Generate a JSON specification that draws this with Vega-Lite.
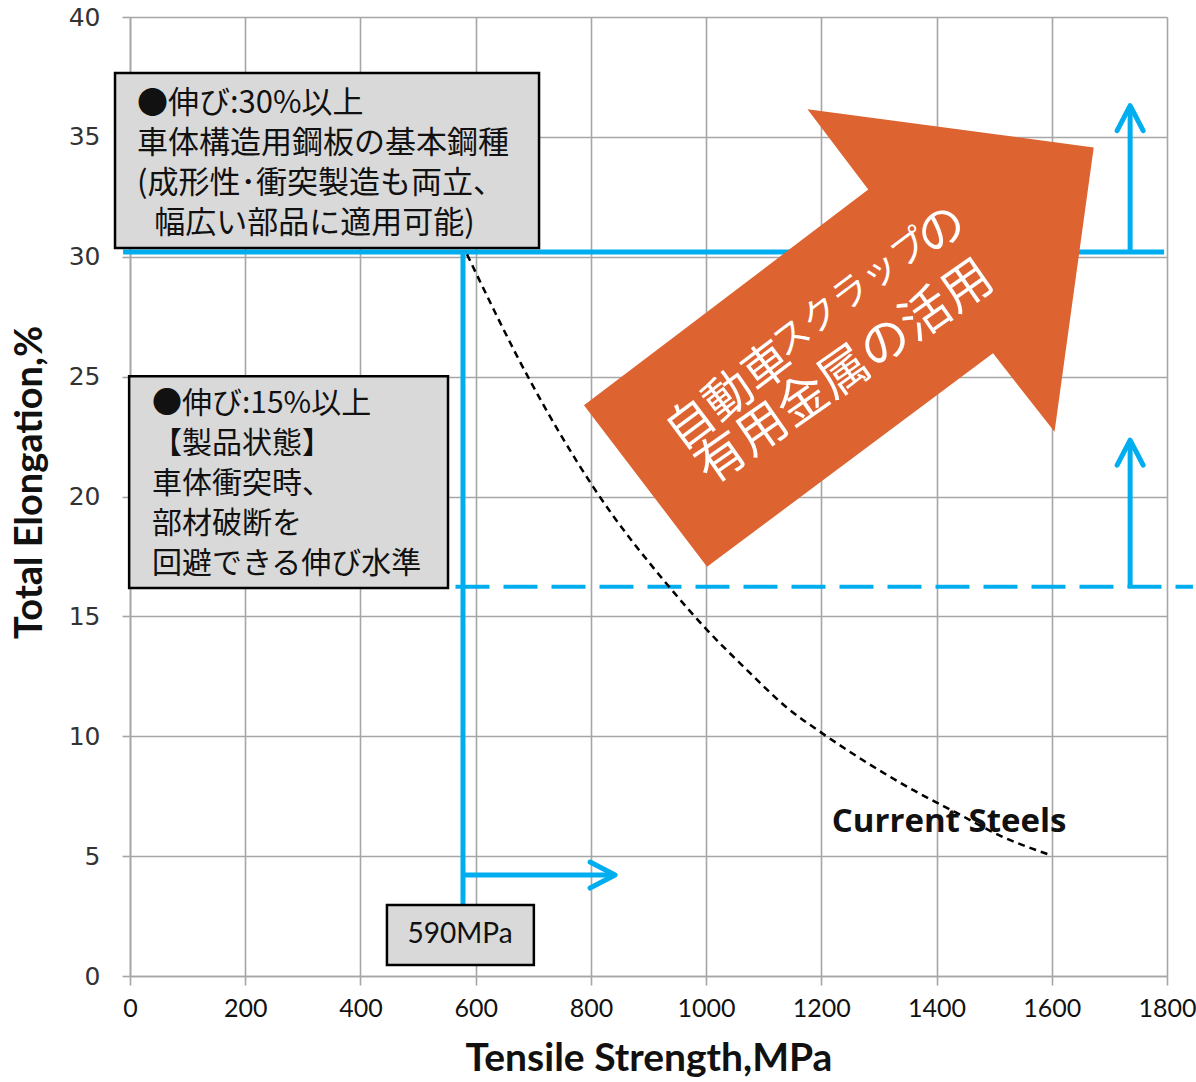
{
  "$schema": "https://vega.github.io/schema/vega-lite/v6.json",
  "width": 1037,
  "height": 959,
  "autosize": {"type": "none"},
  "padding": {"left": 130, "top": 17, "right": 29, "bottom": 106},
  "background": "white",
  "config": {"view": {"stroke": null}},
  "datasets": {
    "solid": [
      {"x": -12, "y": 30.2, "x2": 1795, "y2": 30.2},
      {"x": 578, "y": 30.2, "x2": 578, "y2": 2.96},
      {"x": 578, "y": 4.21, "x2": 838, "y2": 4.21},
      {"x": 1736, "y": 30.2, "x2": 1736, "y2": 36.2},
      {"x": 1736, "y": 16.2, "x2": 1736, "y2": 22.3}
    ],
    "dashed": [{"x": 565, "y": 16.24, "x2": 1845, "y2": 16.24}],
    "heads": [
      {"x": 1736, "y": 36.3, "a": 0},
      {"x": 1736, "y": 22.35, "a": 0},
      {"x": 842, "y": 4.21, "a": 90}
    ],
    "curve": [
      {"x": 585, "y": 30.1},
      {"x": 694, "y": 24.85},
      {"x": 804, "y": 20.4},
      {"x": 937, "y": 16.2},
      {"x": 1001, "y": 14.45},
      {"x": 1071, "y": 12.76},
      {"x": 1140, "y": 11.2},
      {"x": 1203, "y": 10.1},
      {"x": 1279, "y": 8.9},
      {"x": 1359, "y": 7.76},
      {"x": 1435, "y": 6.8},
      {"x": 1515, "y": 5.8},
      {"x": 1597, "y": 5.05}
    ],
    "bigarrow": [
      {"i": 1, "x": 1672.8, "y": 34.56},
      {"i": 2, "x": 1604.8, "y": 22.7},
      {"i": 3, "x": 1498, "y": 25.97},
      {"i": 4, "x": 1001.6, "y": 17.07},
      {"i": 5, "x": 788, "y": 23.81},
      {"i": 6, "x": 1281.4, "y": 32.8},
      {"i": 7, "x": 1176, "y": 36.15}
    ],
    "arrowtext": [
      {"x": 1041.5, "y": 24.15, "t": "自動車", "s": 48, "a": -37},
      {"x": 1252, "y": 28.45, "t": "スクラップ", "s": 37, "a": -37},
      {"x": 1410, "y": 31.05, "t": "の", "s": 48, "a": -37},
      {"x": 1241, "y": 25.15, "t": "有用金属の活用", "s": 50, "a": -35}
    ],
    "boxes": [
      {"x": -26, "x2": 710, "y": 30.36, "y2": 37.66},
      {"x": -1.5, "x2": 552, "y": 16.18, "y2": 25.02},
      {"x": 446, "x2": 701, "y": 0.46, "y2": 2.96}
    ],
    "box1text": [
      {"x": 12, "y": 36.36, "t": ["●伸び:30%以上", "車体構造用鋼板の基本鋼種", "(成形性･衝突製造も両立、"]},
      {"x": 42, "y": 31.36, "t": "幅広い部品に適用可能)"}
    ],
    "box2text": [
      {"x": 38, "y": 23.85, "t": ["●伸び:15%以上", "【製品状態】", "車体衝突時、", "部材破断を", "回避できる伸び水準"]}
    ],
    "mpa": [{"x": 573, "y": 1.71, "t": "590MPa"}],
    "steels": [{"x": 1218, "y": 6.42, "t": "Current  Steels"}]
  },
  "layer": [
    {
      "data": {"name": "solid"},
      "mark": {"type": "rule", "color": "#00aeef", "strokeWidth": 5},
      "encoding": {
        "x": {
          "field": "x", "type": "quantitative",
          "scale": {"domain": [0, 1800], "nice": false, "zero": false},
          "axis": {
            "title": "Tensile Strength,MPa",
            "values": [0, 200, 400, 600, 800, 1000, 1200, 1400, 1600, 1800],
            "format": "d",
            "grid": true, "gridColor": "#a6a6a6", "gridWidth": 1.6,
            "domainColor": "#a6a6a6", "domainWidth": 1.6,
            "tickColor": "#a6a6a6", "tickWidth": 1.6, "tickSize": 9,
            "labelFont": "Lato",
            "labelFontSize": 25, "labelColor": "#111", "labelPadding": 11,
            "labelFlush": false, "labelOverlap": false,
            "titleFont": "Lato", "titleFontSize": 39, "titleFontWeight": "bold",
            "titleColor": "#111", "titlePadding": 18
          }
        },
        "y": {
          "field": "y", "type": "quantitative",
          "scale": {"domain": [0, 40], "nice": false, "zero": false},
          "axis": {
            "title": "Total Elongation,%",
            "values": [0, 5, 10, 15, 20, 25, 30, 35, 40],
            "grid": true, "gridColor": "#a6a6a6", "gridWidth": 1.6,
            "domainColor": "#a6a6a6", "domainWidth": 1.6,
            "tickColor": "#a6a6a6", "tickWidth": 1.6, "tickSize": 8,
            "labelFont": "DejaVu Sans", "labelFontSize": 25, "labelColor": "#333",
            "labelPadding": 22, "labelFlush": false, "labelOverlap": false,
            "titleFont": "Lato", "titleFontSize": 38, "titleFontWeight": "bold",
            "titleColor": "#111", "titleX": -100, "titleY": 465,
            "titleAlign": "center", "titleBaseline": "middle", "titleAngle": -90
          }
        },
        "x2": {"field": "x2"},
        "y2": {"field": "y2"}
      }
    },
    {
      "data": {"name": "dashed"},
      "mark": {"type": "rule", "color": "#00aeef", "strokeWidth": 4, "strokeDash": [34, 14]},
      "encoding": {
        "x": {"field": "x", "type": "quantitative"},
        "y": {"field": "y", "type": "quantitative"},
        "x2": {"field": "x2"},
        "y2": {"field": "y2"}
      }
    },
    {
      "data": {"name": "heads"},
      "mark": {"type": "point", "shape": "M -0.52 1 L 0 0 L 0.52 1", "filled": false, "color": "#00aeef", "strokeWidth": 5, "opacity": 1, "size": 2500, "strokeCap": "round", "strokeJoin": "round"},
      "encoding": {
        "x": {"field": "x", "type": "quantitative"},
        "y": {"field": "y", "type": "quantitative"},
        "angle": {"field": "a", "type": "quantitative", "scale": null}
      }
    },
    {
      "data": {"name": "curve"},
      "mark": {"type": "line", "color": "black", "strokeWidth": 2.5, "strokeDash": [7, 5], "interpolate": "monotone"},
      "encoding": {
        "x": {"field": "x", "type": "quantitative"},
        "y": {"field": "y", "type": "quantitative"}
      }
    },
    {
      "data": {"name": "bigarrow"},
      "mark": {"type": "line", "fill": "#dd6331", "stroke": null, "interpolate": "linear-closed"},
      "encoding": {
        "x": {"field": "x", "type": "quantitative"},
        "y": {"field": "y", "type": "quantitative"},
        "order": {"field": "i", "type": "quantitative"}
      }
    },
    {
      "data": {"name": "arrowtext"},
      "mark": {"type": "text", "font": "Noto Sans CJK JP", "color": "white", "align": "center", "baseline": "middle"},
      "encoding": {
        "x": {"field": "x", "type": "quantitative"},
        "y": {"field": "y", "type": "quantitative"},
        "text": {"field": "t"},
        "size": {"field": "s", "type": "quantitative", "scale": null},
        "angle": {"field": "a", "type": "quantitative", "scale": null}
      }
    },
    {
      "data": {"name": "boxes"},
      "mark": {"type": "rect", "fill": "#d9d9d9", "stroke": "black", "strokeWidth": 2.5},
      "encoding": {
        "x": {"field": "x", "type": "quantitative"},
        "x2": {"field": "x2"},
        "y": {"field": "y", "type": "quantitative"},
        "y2": {"field": "y2"}
      }
    },
    {
      "data": {"name": "box1text"},
      "mark": {"type": "text", "font": "Noto Sans CJK JP", "fontSize": 31, "lineHeight": 40, "color": "#111", "align": "left", "baseline": "middle"},
      "encoding": {
        "x": {"field": "x", "type": "quantitative"},
        "y": {"field": "y", "type": "quantitative"},
        "text": {"field": "t"}
      }
    },
    {
      "data": {"name": "box2text"},
      "mark": {"type": "text", "font": "Noto Sans CJK JP", "fontSize": 30, "lineHeight": 40, "color": "#111", "align": "left", "baseline": "middle"},
      "encoding": {
        "x": {"field": "x", "type": "quantitative"},
        "y": {"field": "y", "type": "quantitative"},
        "text": {"field": "t"}
      }
    },
    {
      "data": {"name": "mpa"},
      "mark": {"type": "text", "font": "Lato", "fontSize": 28, "color": "#111", "align": "center", "baseline": "middle"},
      "encoding": {
        "x": {"field": "x", "type": "quantitative"},
        "y": {"field": "y", "type": "quantitative"},
        "text": {"field": "t"}
      }
    },
    {
      "data": {"name": "steels"},
      "mark": {"type": "text", "font": "Open Sans", "fontWeight": "bold", "fontSize": 33, "color": "#111", "align": "left", "baseline": "middle"},
      "encoding": {
        "x": {"field": "x", "type": "quantitative"},
        "y": {"field": "y", "type": "quantitative"},
        "text": {"field": "t"}
      }
    }
  ]
}
